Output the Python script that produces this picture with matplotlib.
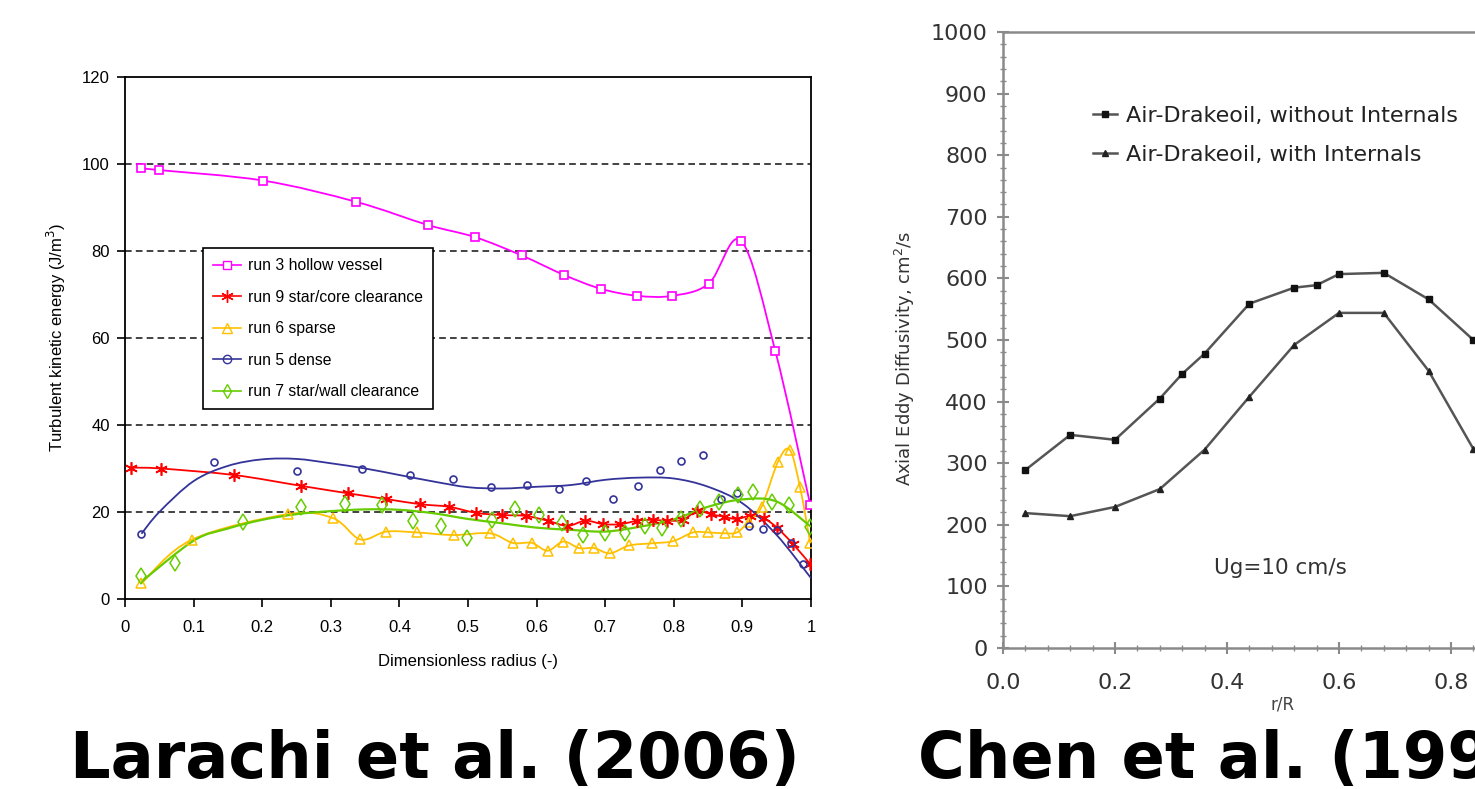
import numpy as np
import matplotlib.pyplot as plt
from matplotlib.path import Path
from matplotlib.patches import PathPatch
from matplotlib.lines import Line2D
from matplotlib.ticker import MultipleLocator

W, H = 1475, 789

# --- Larachi et al. (2006): energia cinetica turbolenta ---
run3_x = [0.024, 0.050, 0.201, 0.337, 0.441, 0.510, 0.578, 0.640, 0.694, 0.747, 0.798, 0.851, 0.898, 0.948, 0.999]
run3_y = [99.0, 98.6, 96.2, 91.3, 86.0, 83.2, 79.0, 74.5, 71.3, 69.7, 69.7, 72.5, 82.4, 57.0, 21.6]

run9_x = [0.009, 0.052, 0.159, 0.257, 0.325, 0.380, 0.430, 0.472, 0.512, 0.549, 0.584, 0.616, 0.645, 0.671,
          0.697, 0.722, 0.747, 0.769, 0.790, 0.813, 0.834, 0.854, 0.873, 0.892, 0.911, 0.931, 0.951, 0.974, 0.999]
run9_y = [30.2, 30.0, 28.5, 26.0, 24.3, 23.0, 21.8, 21.2, 19.8, 19.3, 19.1, 18.0, 16.8, 18.0,
          17.2, 17.2, 18.0, 18.2, 18.0, 18.2, 20.2, 19.5, 18.9, 18.4, 19.1, 18.6, 16.3, 12.6, 8.0]

run6_x = [0.024, 0.097, 0.237, 0.303, 0.343, 0.381, 0.425, 0.479, 0.532, 0.565, 0.593, 0.616, 0.639, 0.662,
          0.684, 0.707, 0.735, 0.768, 0.799, 0.828, 0.850, 0.874, 0.892, 0.909, 0.928, 0.952, 0.969, 0.984, 0.999]
run6_y = [3.6, 13.6, 19.5, 18.6, 13.7, 15.5, 15.3, 14.7, 15.1, 12.9, 12.9, 11.1, 13.2, 11.7,
          11.7, 10.5, 12.3, 12.8, 13.3, 15.3, 15.3, 15.1, 15.3, 17.8, 21.2, 31.6, 34.3, 25.7, 12.8]

run5_x = [0.024, 0.130, 0.250, 0.346, 0.415, 0.478, 0.534, 0.586, 0.632, 0.672, 0.712, 0.748, 0.780, 0.810,
          0.842, 0.869, 0.892, 0.909, 0.930, 0.951, 0.971, 0.988]
run5_y = [14.9, 31.6, 29.4, 30.0, 28.5, 27.6, 25.7, 26.2, 25.2, 27.2, 23.0, 26.0, 29.7, 31.8,
          33.1, 23.0, 24.4, 16.8, 16.1, 15.9, 12.9, 8.0]
# linea di tendenza
run5_trend_x = [0.024, 0.05, 0.1, 0.15, 0.2, 0.25, 0.3, 0.35, 0.4, 0.45, 0.5, 0.55, 0.6, 0.65, 0.7, 0.75, 0.8,
                0.85, 0.9, 0.95, 1.0]
run5_trend_y = [15.0, 20.0, 27.1, 30.6, 32.1, 32.2, 31.2, 30.0, 28.5, 27.0, 25.7, 25.4, 25.8, 26.2, 27.4, 27.9, 27.7,
                25.8, 22.0, 14.7, 4.8]

run7_x = [0.024, 0.073, 0.172, 0.257, 0.320, 0.374, 0.420, 0.461, 0.498, 0.535, 0.569, 0.604, 0.637, 0.668,
          0.699, 0.729, 0.758, 0.783, 0.811, 0.838, 0.866, 0.893, 0.916, 0.943, 0.968, 0.998]
run7_y = [5.3, 8.3, 17.8, 21.2, 21.8, 21.6, 18.0, 16.8, 14.0, 18.2, 20.6, 19.3, 17.4, 14.7,
          15.1, 15.2, 16.8, 16.4, 18.4, 20.8, 22.2, 23.9, 24.7, 22.4, 21.6, 16.5]
run7_trend_x = [0.024, 0.1, 0.15, 0.2, 0.25, 0.3, 0.35, 0.4, 0.45, 0.5, 0.55, 0.6, 0.65, 0.7, 0.75, 0.8, 0.85,
                0.9, 0.95, 1.0]
run7_trend_y = [4.0, 13.4, 16.2, 18.2, 19.5, 20.2, 20.6, 20.5, 19.7, 18.4, 17.4, 16.4, 15.9, 15.5, 16.6, 18.3, 21.2,
                22.9, 22.4, 16.6]

left_xticks = [0, 0.1, 0.2, 0.3, 0.4, 0.5, 0.6, 0.7, 0.8, 0.9, 1.0]
left_xticklabels = ["0", "0.1", "0.2", "0.3", "0.4", "0.5", "0.6", "0.7", "0.8", "0.9", "1"]
left_yticks = [0, 20, 40, 60, 80, 100, 120]

# --- Chen et al. (1999): diffusivita' assiale ---
chen_out_x = [0.04, 0.12, 0.20, 0.28, 0.32, 0.36, 0.44, 0.52, 0.56, 0.60, 0.68, 0.76, 0.84]
chen_out_y = [289, 346, 338, 405, 445, 478, 559, 585, 589, 607, 609, 566, 500]
chen_in_x = [0.04, 0.12, 0.20, 0.28, 0.36, 0.44, 0.52, 0.60, 0.68, 0.76, 0.84]
chen_in_y = [219, 214, 229, 258, 322, 408, 492, 544, 544, 450, 323]

right_xticks = [0.0, 0.2, 0.4, 0.6, 0.8, 1.0]
right_xticklabels = ["0.0", "0.2", "0.4", "0.6", "0.8", "1.0"]
right_yticks = [0, 100, 200, 300, 400, 500, 600, 700, 800, 900, 1000]


def smooth_path(x, y):
    """ Curva smussata (Catmull-Rom -> Bezier cubiche) passante per i punti, come in Excel """
    p = np.column_stack([x, y]).astype(float)
    verts = [p[0]]
    codes = [Path.MOVETO]
    for i in range(len(p) - 1):
        p0 = p[i - 1] if i > 0 else p[i]
        p3 = p[i + 2] if i + 2 < len(p) else p[i + 1]
        verts += [p[i] + (p[i + 1] - p0) / 6, p[i + 1] - (p3 - p[i]) / 6, p[i + 1]]
        codes += [Path.CURVE4] * 3
    return Path(verts, codes)


def draw_curve(ax, x, y, color, lw=1.3):
    ax.add_patch(PathPatch(smooth_path(x, y), facecolor='none', edgecolor=color, lw=lw, zorder=3))


fig = plt.figure(figsize=(W / 100, H / 100), dpi=100)
chart_font = 'Liberation Sans'

# ---------------- grafico di sinistra ----------------
ax = fig.add_axes([125 / W, (H - 599) / H, 686 / W, 522 / H])
ax.set_xlim(0, 1)
ax.set_ylim(0, 120)

for yv in left_yticks[1:-1]:
    ax.axhline(yv, color='#222222', lw=1.2, ls=(0, (4, 2.5)), zorder=1)

magenta, red, gold, navy, green = '#FF00FF', '#FF0000', '#FFC000', '#333399', '#66CC00'

draw_curve(ax, run3_x, run3_y, magenta)
ax.plot(run3_x, run3_y, ls='none', marker='s', ms=6, mfc='white', mec=magenta, mew=1.2, zorder=4)

draw_curve(ax, run9_x, run9_y, red)
ax.plot(run9_x, run9_y, ls='none', marker=(6, 2, 0), ms=9, mec=red, mew=1.2, zorder=4)

draw_curve(ax, run6_x, run6_y, gold)
ax.plot(run6_x, run6_y, ls='none', marker='^', ms=7.5, mfc='none', mec=gold, mew=1.1, zorder=4)

draw_curve(ax, run5_trend_x, run5_trend_y, navy)
ax.plot(run5_x, run5_y, ls='none', marker='o', ms=5, mfc='none', mec=navy, mew=1.2, zorder=4)

draw_curve(ax, run7_trend_x, run7_trend_y, green, lw=1.6)
ax.plot(run7_x, run7_y, ls='none', marker='d', ms=8, mfc='none', mec=green, mew=1.1, zorder=4)

ax.set_xticks(left_xticks, left_xticklabels)
ax.set_yticks(left_yticks)
ax.tick_params(direction='out', length=6, width=1.2, labelsize=12, pad=5)
ax.tick_params(axis='x', pad=9)
for lab in ax.get_xticklabels() + ax.get_yticklabels():
    lab.set_fontfamily(chart_font)
for s in ax.spines.values():
    s.set_linewidth(1.3)
ax.set_xlabel('Dimensionless radius (-)', fontsize=12, family=chart_font, labelpad=14)
ax.set_ylabel('Turbulent kinetic energy (J/m$^3$)', fontsize=12, family=chart_font, labelpad=10)

handles = [
    Line2D([], [], color=magenta, lw=1.2, marker='s', ms=6, mfc='white', mec=magenta),
    Line2D([], [], color=red, lw=1.2, marker=(6, 2, 0), ms=9, mec=red),
    Line2D([], [], color=gold, lw=1.2, marker='^', ms=7, mfc='none', mec=gold),
    Line2D([], [], color=navy, lw=1.2, marker='o', ms=6, mfc='none', mec=navy),
    Line2D([], [], color=green, lw=1.2, marker='d', ms=7, mfc='none', mec=green),
]
labels = ['run 3 hollow vessel', 'run 9 star/core clearance', 'run 6 sparse', 'run 5 dense',
          'run 7 star/wall clearance']
leg = ax.legend(handles, labels, loc='upper left', bbox_to_anchor=(203 / W, 1 - 248 / H),
                bbox_transform=fig.transFigure, borderaxespad=0, fancybox=False, framealpha=1,
                edgecolor='black', handlelength=1.8, handletextpad=0.4, labelspacing=1.05,
                borderpad=0.65, prop={'family': chart_font, 'size': 11.3})
leg.get_frame().set_linewidth(1.2)

# ---------------- grafico di destra (scansione, tagliato a destra) ----------------
gray = '#8a8a8a'
ink = '#555555'
ax2 = fig.add_axes([1003 / W, (H - 648) / H, 560 / W, 616 / H])
ax2.set_xlim(0, 1)
ax2.set_ylim(0, 1000)
ax2.plot(chen_out_x, chen_out_y, color=ink, lw=1.8, marker='s', ms=5, mfc='#111111', mec='#111111',
         label='Air-Drakeoil, without Internals')
ax2.plot(chen_in_x, chen_in_y, color=ink, lw=1.8, marker='^', ms=4, mfc='#222222', mec='#222222',
         label='Air-Drakeoil, with Internals')
ax2.set_xticks(right_xticks, right_xticklabels)
ax2.set_yticks(right_yticks)
ax2.xaxis.set_minor_locator(MultipleLocator(0.04))
ax2.yaxis.set_minor_locator(MultipleLocator(20))
ax2.tick_params(which='major', direction='inout', length=8, width=1.5, color=gray, labelcolor='#333333',
                labelsize=16)
ax2.tick_params(which='minor', direction='inout', length=4, width=1, color=gray)
ax2.tick_params(axis='x', which='major', pad=14)
ax2.tick_params(axis='y', which='major', pad=7)
for s in ax2.spines.values():
    s.set_color(gray)
    s.set_linewidth(1.8)
ax2.set_xlabel('r/R', fontsize=12, color='#444444', labelpad=2)
ax2.set_ylabel('Axial Eddy Diffusivity, cm$^2$/s', fontsize=13, color='#333333', labelpad=10, y=0.47)
ax2.text(0.495, 0.13, 'Ug=10 cm/s', transform=ax2.transAxes, ha='center', va='center', fontsize=15.5,
         color='#333333')
ax2.legend(loc='upper left', bbox_to_anchor=(1093 / W, 1 - 106 / H), bbox_transform=fig.transFigure,
           frameon=False, borderaxespad=0, borderpad=0, handlelength=1.1, handletextpad=0.4,
           labelspacing=0.85, prop={'size': 16}, labelcolor='#222222')

# ---------------- didascalie ----------------
fig.text(435 / W, 11 / H, 'Larachi et al. (2006)', ha='center', va='baseline', fontsize=46, fontweight='bold',
         family='DejaVu Sans')
fig.text(918 / W, 11 / H, 'Chen et al. (1999)', ha='left', va='baseline', fontsize=46, fontweight='bold',
         family='DejaVu Sans')

fig.savefig('out.png', dpi=100)
